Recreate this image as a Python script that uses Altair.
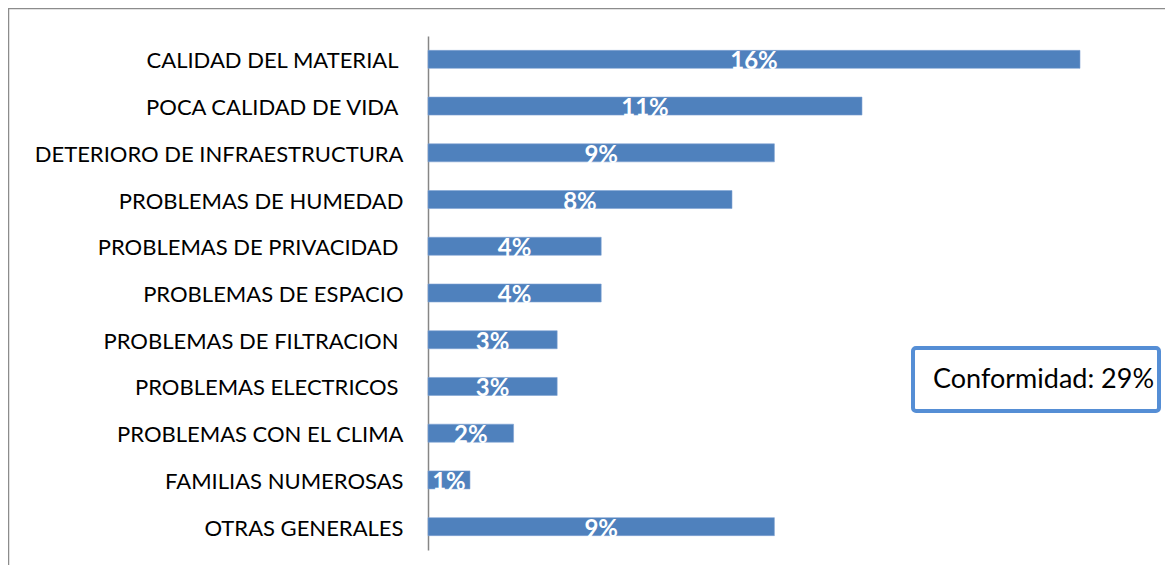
import altair as alt
import pandas as pd

categories = [
    "CALIDAD DEL MATERIAL ",
    "POCA CALIDAD DE VIDA ",
    "DETERIORO DE INFRAESTRUCTURA",
    "PROBLEMAS DE HUMEDAD",
    "PROBLEMAS DE PRIVACIDAD ",
    "PROBLEMAS DE ESPACIO",
    "PROBLEMAS DE FILTRACION ",
    "PROBLEMAS ELECTRICOS ",
    "PROBLEMAS CON EL CLIMA",
    "FAMILIAS NUMEROSAS",
    "OTRAS GENERALES",
]
values = [16.0, 10.65, 8.5, 7.46, 4.25, 4.25, 3.17, 3.17, 2.1, 1.03, 8.5]
value_labels = ["16%", "11%", "9%", "8%", "4%", "4%", "3%", "3%", "2%", "1%", "9%"]
note_text = ["Conformidad: 29%"]

df = pd.DataFrame({"cat": categories, "val": values, "lab": value_labels})

FONT = "Lato"
BLUE = "#4F81BD"

y_enc = alt.Y(
    "cat:N",
    sort=categories,
    scale=alt.Scale(paddingInner=0.615, paddingOuter=0.3075),
    axis=alt.Axis(
        title=None,
        ticks=False,
        domainColor="#868686",
        domainWidth=1.5,
        labelFont=FONT,
        labelFontSize=22,
        labelColor="#000000",
        labelOffset=2,
        labelPadding={
            "condition": {
                "test": "substring(datum.value, length(datum.value) - 1) == ' '",
                "value": 30,
            },
            "value": 25,
        },
        labelLimit=500,
    ),
)
x_scale = alt.Scale(domain=[0, 16], nice=False, zero=True)

bars = alt.Chart(df).mark_bar(color=BLUE, stroke="#7fa3d3", strokeWidth=0.6).encode(
    x=alt.X("val:Q", scale=x_scale, axis=None),
    y=y_enc,
)

texts = (
    alt.Chart(df)
    .transform_calculate(mid="datum.val / 2")
    .mark_text(color="white", font=FONT, fontWeight="bold", fontSize=24, dy=3, align="center", baseline="middle")
    .encode(x=alt.X("mid:Q", scale=x_scale, axis=None), y=alt.Y("cat:N", sort=categories), text="lab:N")
)

frame_df = pd.DataFrame({"k": [0]})
frame = alt.Chart(frame_df).mark_rect(fill=None, stroke="#8c8c8c", strokeWidth=1.5).encode(
    x=alt.value(-419.5), x2=alt.value(900), y=alt.value(-27.5), y2=alt.value(900)
)

note_df = pd.DataFrame({"t": note_text})
box = alt.Chart(note_df).mark_rect(fill="white", stroke="#558ED5", strokeWidth=4, cornerRadius=3).encode(
    x=alt.value(485), x2=alt.value(731), y=alt.value(312), y2=alt.value(375)
)
box_text = alt.Chart(note_df).mark_text(font=FONT, fontSize=27, color="#000000", align="left", baseline="middle").encode(
    x=alt.value(505), y=alt.value(344), text="t:N"
)

chart = (
    alt.layer(frame, bars, texts, box, box_text)
    .properties(
        width=652,
        height=514,
        autosize=alt.AutoSizeParams(type="none"),
        padding={"left": 420, "top": 28, "right": 85, "bottom": 15},
        background="white",
    )
    .configure_view(stroke=None)
)

chart.save("out.html", embed_options={"renderer": "svg", "actions": False})
